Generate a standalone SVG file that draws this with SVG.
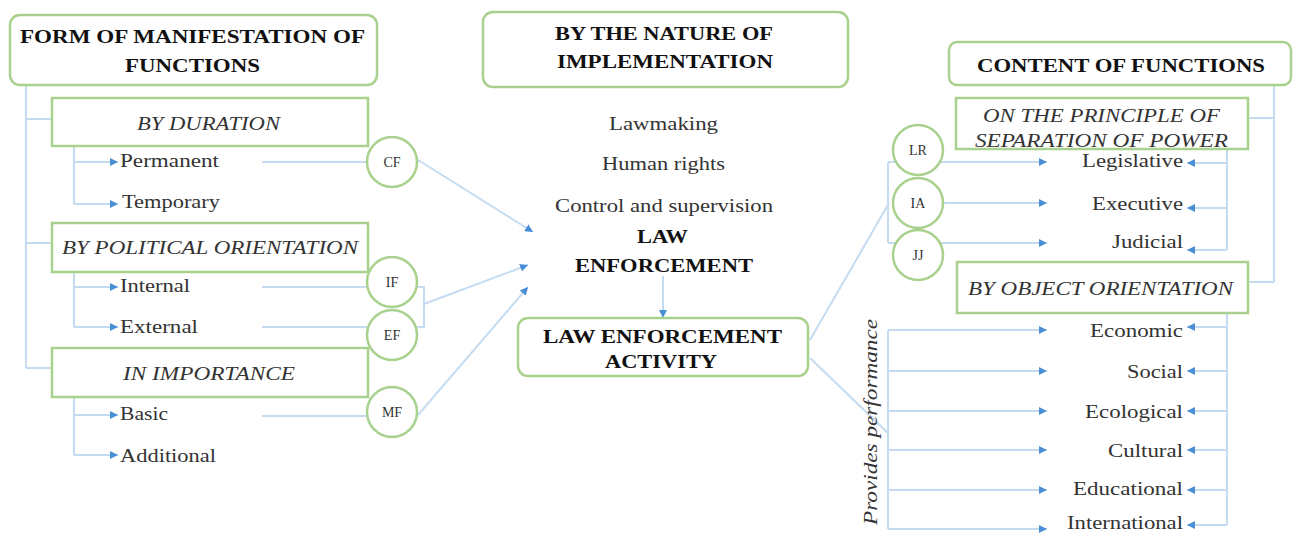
<svg xmlns="http://www.w3.org/2000/svg" width="1293" height="533" viewBox="0 0 1293 533">
<style>
.box{fill:#fff;stroke:#a9d18e;stroke-width:2.5}
.circ{fill:#fff;stroke:#a9d18e;stroke-width:2.5}
.ln{fill:none;stroke:#c4dbf1;stroke-width:2}
text{font-family:'Liberation Serif','Times New Roman','DejaVu Serif',serif}
.t{fill:#333;font-size:19px}
.b{fill:#111;font-size:18px;font-weight:bold}
.i{fill:#333;font-size:18px;font-style:italic}
.c{fill:#333;font-size:14px;text-anchor:middle}
</style>
<defs>
<marker id="ah" viewBox="0 0 8 8" refX="8" refY="4" markerWidth="8" markerHeight="8" markerUnits="userSpaceOnUse" orient="auto">
<path d="M0,0 L8,4 L0,8 z" fill="#4a8fd6"/>
</marker>
</defs>

<g id="connectors">
<path class="ln" d="M26,85 V368"/>
<path class="ln" d="M26,119 H66" marker-end="url(#ah)"/>
<path class="ln" d="M26,243 H66" marker-end="url(#ah)"/>
<path class="ln" d="M26,368 H66" marker-end="url(#ah)"/>
<path class="ln" d="M74,136 V204"/>
<path class="ln" d="M74,162 H118" marker-end="url(#ah)"/>
<path class="ln" d="M74,204 H118" marker-end="url(#ah)"/>
<path class="ln" d="M74,262 V327"/>
<path class="ln" d="M74,287 H118" marker-end="url(#ah)"/>
<path class="ln" d="M74,327 H118" marker-end="url(#ah)"/>
<path class="ln" d="M74,387 V455"/>
<path class="ln" d="M74,415 H118" marker-end="url(#ah)"/>
<path class="ln" d="M74,455 H118" marker-end="url(#ah)"/>
<path class="ln" d="M262,162 H368"/>
<path class="ln" d="M262,287 H424 V327 H262"/>
<path class="ln" d="M262,416 H368"/>
<path class="ln" d="M418,160 L533,232" marker-end="url(#ah)"/>
<path class="ln" d="M424,304 L528,265" marker-end="url(#ah)"/>
<path class="ln" d="M418,415 L528,287" marker-end="url(#ah)"/>
<path class="ln" d="M663,276 V318" marker-end="url(#ah)"/>
<path class="ln" d="M810,340 L889,203"/>
<path class="ln" d="M810,358 L888,433"/>
<path class="ln" d="M888,162 V243"/>
<path class="ln" d="M888,162 H1047" marker-end="url(#ah)"/>
<path class="ln" d="M944,203 H1047" marker-end="url(#ah)"/>
<path class="ln" d="M888,243 H1047" marker-end="url(#ah)"/>
<path class="ln" d="M888,330 V529"/>
<path class="ln" d="M888,330 H1047" marker-end="url(#ah)"/>
<path class="ln" d="M888,371 H1047" marker-end="url(#ah)"/>
<path class="ln" d="M888,411 H1047" marker-end="url(#ah)"/>
<path class="ln" d="M888,450 H1047" marker-end="url(#ah)"/>
<path class="ln" d="M888,490 H1047" marker-end="url(#ah)"/>
<path class="ln" d="M888,529 H1047" marker-end="url(#ah)"/>
<path class="ln" d="M1274,85 V282"/>
<path class="ln" d="M1274,118 H1232" marker-end="url(#ah)"/>
<path class="ln" d="M1274,282 H1240" marker-end="url(#ah)"/>
<path class="ln" d="M1227,140 V250"/>
<path class="ln" d="M1227,163 H1187" marker-end="url(#ah)"/>
<path class="ln" d="M1227,208 H1187" marker-end="url(#ah)"/>
<path class="ln" d="M1227,250 H1187" marker-end="url(#ah)"/>
<path class="ln" d="M1227,300 V525"/>
<path class="ln" d="M1227,327 H1187" marker-end="url(#ah)"/>
<path class="ln" d="M1227,371 H1187" marker-end="url(#ah)"/>
<path class="ln" d="M1227,411 H1187" marker-end="url(#ah)"/>
<path class="ln" d="M1227,450 H1187" marker-end="url(#ah)"/>
<path class="ln" d="M1227,490 H1187" marker-end="url(#ah)"/>
<path class="ln" d="M1227,525 H1187" marker-end="url(#ah)"/>
</g>

<g id="form-box">
<rect class="box" x="10" y="15" width="367" height="70" rx="10"/>
<text class="b" x="20" y="43" textLength="345" lengthAdjust="spacingAndGlyphs">FORM OF MANIFESTATION OF</text>
<text class="b" x="125" y="72" textLength="135" lengthAdjust="spacingAndGlyphs">FUNCTIONS</text>
</g>
<g id="by-duration">
<rect class="box" x="52" y="98" width="316" height="48"/>
<text class="i" x="137" y="130" textLength="143" lengthAdjust="spacingAndGlyphs">BY DURATION</text>
</g>
<g id="permanent"><text class="t" x="120" y="167" textLength="99" lengthAdjust="spacingAndGlyphs">Permanent</text></g>
<g id="temporary"><text class="t" x="122" y="208" textLength="98" lengthAdjust="spacingAndGlyphs">Temporary</text></g>
<g id="by-political">
<rect class="box" x="52" y="223" width="316" height="49"/>
<text class="i" x="62" y="254" textLength="296" lengthAdjust="spacingAndGlyphs">BY POLITICAL ORIENTATION</text>
</g>
<g id="internal"><text class="t" x="120" y="292" textLength="70" lengthAdjust="spacingAndGlyphs">Internal</text></g>
<g id="external"><text class="t" x="120" y="333" textLength="78" lengthAdjust="spacingAndGlyphs">External</text></g>
<g id="in-importance">
<rect class="box" x="52" y="348" width="316" height="49"/>
<text class="i" x="123" y="380" textLength="172" lengthAdjust="spacingAndGlyphs">IN IMPORTANCE</text>
</g>
<g id="basic"><text class="t" x="120" y="420" textLength="48" lengthAdjust="spacingAndGlyphs">Basic</text></g>
<g id="additional"><text class="t" x="120" y="462" textLength="96" lengthAdjust="spacingAndGlyphs">Additional</text></g>

<g id="cf"><circle class="circ" cx="392" cy="162" r="25"/><text class="c" x="392" y="167">CF</text></g>
<g id="if"><circle class="circ" cx="392" cy="282" r="25"/><text class="c" x="392" y="287">IF</text></g>
<g id="ef"><circle class="circ" cx="392" cy="335" r="25"/><text class="c" x="392" y="340">EF</text></g>
<g id="mf"><circle class="circ" cx="392" cy="412" r="25"/><text class="c" x="392" y="417">MF</text></g>

<g id="nature-box">
<rect class="box" x="483" y="12" width="365" height="75" rx="10"/>
<text class="b" x="555" y="40" textLength="218" lengthAdjust="spacingAndGlyphs">BY THE NATURE OF</text>
<text class="b" x="557" y="68" textLength="216" lengthAdjust="spacingAndGlyphs">IMPLEMENTATION</text>
</g>
<g id="lawmaking"><text class="t" x="609" y="130" textLength="109" lengthAdjust="spacingAndGlyphs">Lawmaking</text></g>
<g id="human-rights"><text class="t" x="602" y="170" textLength="123" lengthAdjust="spacingAndGlyphs">Human rights</text></g>
<g id="control"><text class="t" x="555" y="212" textLength="218" lengthAdjust="spacingAndGlyphs">Control and supervision</text></g>
<g id="law-enforcement">
<text class="b" x="637" y="243" textLength="51" lengthAdjust="spacingAndGlyphs">LAW</text>
<text class="b" x="575" y="272" textLength="178" lengthAdjust="spacingAndGlyphs">ENFORCEMENT</text>
</g>
<g id="activity-box">
<rect class="box" x="518" y="318" width="290" height="58" rx="10"/>
<text class="b" x="543" y="343" textLength="239" lengthAdjust="spacingAndGlyphs">LAW ENFORCEMENT</text>
<text class="b" x="605" y="368" textLength="112" lengthAdjust="spacingAndGlyphs">ACTIVITY</text>
</g>

<g id="lr"><circle class="circ" cx="918" cy="150" r="25"/><text class="c" x="918" y="155">LR</text></g>
<g id="ia"><circle class="circ" cx="918" cy="203" r="25"/><text class="c" x="918" y="208">IA</text></g>
<g id="jj"><circle class="circ" cx="918" cy="255" r="25"/><text class="c" x="918" y="260">JJ</text></g>

<g id="content-box">
<rect class="box" x="949" y="42" width="342" height="43" rx="8"/>
<text class="b" x="977" y="72" textLength="288" lengthAdjust="spacingAndGlyphs">CONTENT OF FUNCTIONS</text>
</g>
<g id="separation-box">
<rect class="box" x="956" y="98" width="292" height="51"/>
<text class="i" x="983" y="122" textLength="237" lengthAdjust="spacingAndGlyphs">ON THE PRINCIPLE OF</text>
<text class="i" x="975" y="147" textLength="253" lengthAdjust="spacingAndGlyphs">SEPARATION OF POWER</text>
</g>
<g id="legislative"><text class="t" x="1082" y="167" textLength="101" lengthAdjust="spacingAndGlyphs">Legislative</text></g>
<g id="executive"><text class="t" x="1092" y="210" textLength="91" lengthAdjust="spacingAndGlyphs">Executive</text></g>
<g id="judicial"><text class="t" x="1112" y="248" textLength="71" lengthAdjust="spacingAndGlyphs">Judicial</text></g>
<g id="object-box">
<rect class="box" x="957" y="262" width="291" height="51"/>
<text class="i" x="968" y="295" textLength="265" lengthAdjust="spacingAndGlyphs">BY OBJECT ORIENTATION</text>
</g>
<g id="economic"><text class="t" x="1090" y="337" textLength="93" lengthAdjust="spacingAndGlyphs">Economic</text></g>
<g id="social"><text class="t" x="1127" y="378" textLength="56" lengthAdjust="spacingAndGlyphs">Social</text></g>
<g id="ecological"><text class="t" x="1085" y="418" textLength="98" lengthAdjust="spacingAndGlyphs">Ecological</text></g>
<g id="cultural"><text class="t" x="1108" y="457" textLength="75" lengthAdjust="spacingAndGlyphs">Cultural</text></g>
<g id="educational"><text class="t" x="1073" y="495" textLength="110" lengthAdjust="spacingAndGlyphs">Educational</text></g>
<g id="international"><text class="t" x="1067" y="529" textLength="116" lengthAdjust="spacingAndGlyphs">International</text></g>
<g id="provides"><text class="i" transform="translate(877,525) rotate(-90)" textLength="206" lengthAdjust="spacingAndGlyphs">Provides performance</text></g>
</svg>
